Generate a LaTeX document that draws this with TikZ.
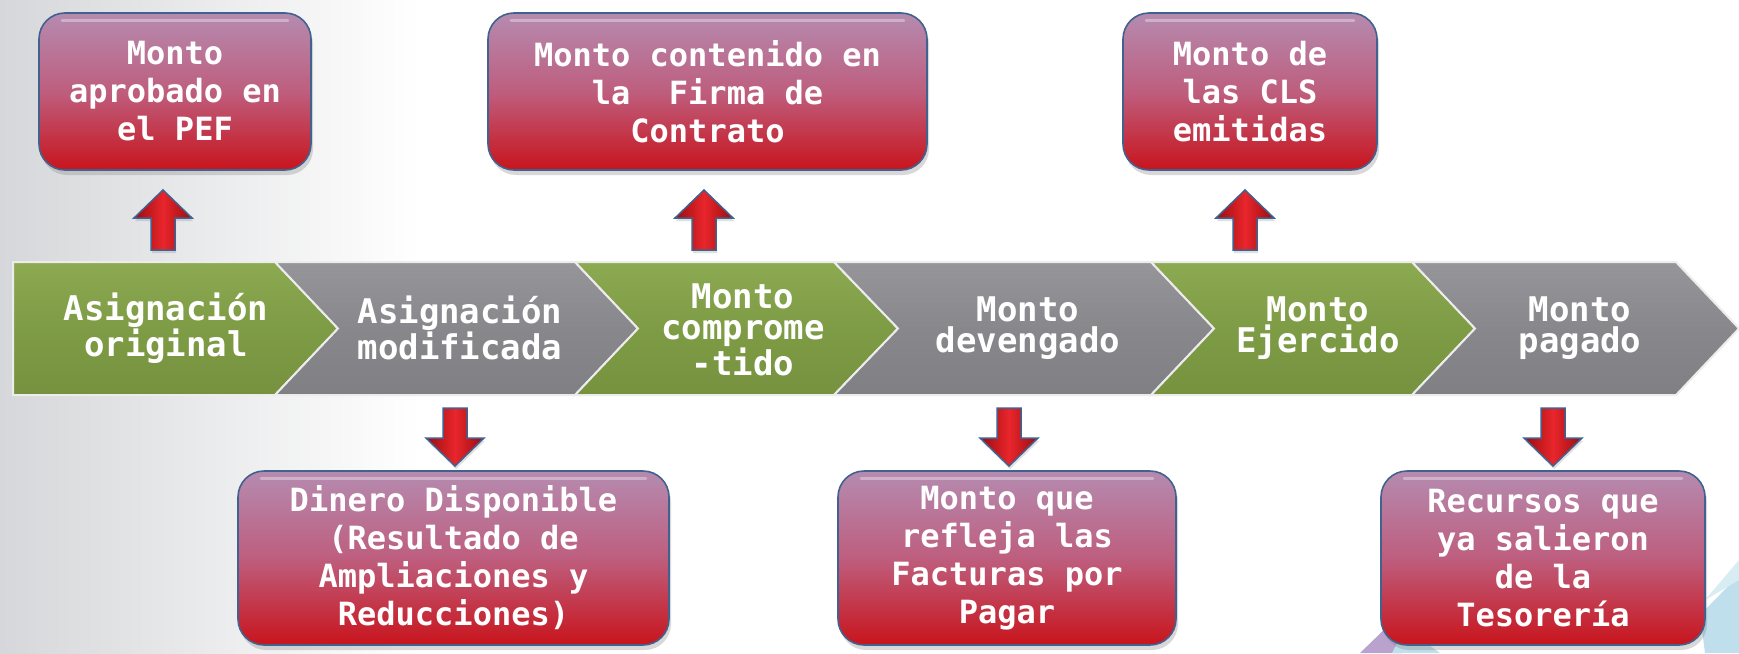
\documentclass[tikz,border=0pt]{standalone}
\usepackage{fontspec}
\newfontfamily\mono{DejaVu Sans Mono}
\usetikzlibrary{shadows}
\definecolor{boxtop}{HTML}{B58BB0}
\definecolor{boxmid}{HTML}{BE5E7E}
\definecolor{boxbot}{HTML}{C8141C}
\definecolor{bordc}{HTML}{41628F}
\definecolor{cgreen}{HTML}{7E9B45}
\definecolor{cgreenl}{HTML}{8CAA52}
\definecolor{cgreend}{HTML}{76923F}
\definecolor{cgrey}{HTML}{87878C}
\definecolor{cgreyl}{HTML}{95959A}
\definecolor{cgreyd}{HTML}{7F7F84}
\definecolor{arrred}{HTML}{E8262C}
\definecolor{arrdark}{HTML}{9A0C10}
\definecolor{bgl}{HTML}{D6D7DA}
\definecolor{decopur}{HTML}{A98BC2}
\definecolor{decoblu}{HTML}{BFDFEC}
% block arrows: name, x, y of top end, y of bottom end
\newcommand\myuparrow[4]{%
  \path[arrstyle] (#2,#3) -- (#2+29,#3+28) -- (#2+12,#3+28) -- (#2+12,#4)
    -- (#2-12,#4) -- (#2-12,#3+28) -- (#2-29,#3+28) -- cycle;
  \coordinate (#1) at (#2,{(#3+#4)/2});}
\newcommand\mydownarrow[4]{%
  \path[arrstyle] (#2,#4) -- (#2+29,#4-28) -- (#2+12,#4-28) -- (#2+12,#3)
    -- (#2-12,#3) -- (#2-12,#4-28) -- (#2-29,#4-28) -- cycle;
  \coordinate (#1) at (#2,{(#3+#4)/2});}
\begin{document}
\begin{tikzpicture}[x=1pt,y=-1pt,
  box/.style={rounded corners=26pt, draw=bordc, line width=1.6pt,
    top color=boxtop, bottom color=boxbot, middle color=boxmid,
    text=white, font=\mono\bfseries\fontsize{32}{38}\selectfont, align=center,
    drop shadow={shadow xshift=2pt, shadow yshift=-5pt, opacity=0.3},
    inner sep=0pt},
  chev/.style={draw=white!85!gray, line width=2pt},
  ctext/.style={text=white, font=\mono\bfseries\fontsize{34}{31}\selectfont, align=center},
  arrstyle/.style={draw=bordc, line width=1.5pt, line join=miter,
    left color=arrdark, right color=arrdark, middle color=arrred,
    drop shadow={shadow xshift=1pt, shadow yshift=-3pt, opacity=0.25}},
]
\useasboundingbox (0,0) rectangle (1739,653);
\fill[white] (0,0) rectangle (1739,653);
\fill[left color=bgl, right color=white] (0,0) rectangle (420,653);
% decorations bottom right
\fill[decopur, opacity=0.8] (1360,653) -- (1392,622) -- (1402,653) -- cycle;
\fill[decoblu] (1392,653) -- (1405,628) -- (1440,653) -- cycle;
\fill[decoblu] (1700,615) -- (1739,575) -- (1739,653) -- (1705,653) -- cycle;
\fill[decoblu!60!white] (1705,600) -- (1739,560) -- (1739,580) -- cycle;

% chevron band
\path[chev, top color=cgreenl, bottom color=cgreend, middle color=cgreen]
  (13,262) -- (275,262) -- (338,328.5) -- (275,395) -- (13,395) -- cycle;
\path[chev, top color=cgreyl, bottom color=cgreyd, middle color=cgrey]
  (275,262) -- (575,262) -- (638,328.5) -- (575,395) -- (275,395) -- (338,328.5) -- cycle;
\path[chev, top color=cgreenl, bottom color=cgreend, middle color=cgreen]
  (575,262) -- (834,262) -- (898,328.5) -- (834,395) -- (575,395) -- (638,328.5) -- cycle;
\path[chev, top color=cgreyl, bottom color=cgreyd, middle color=cgrey]
  (834,262) -- (1151,262) -- (1214,328.5) -- (1151,395) -- (834,395) -- (898,328.5) -- cycle;
\path[chev, top color=cgreenl, bottom color=cgreend, middle color=cgreen]
  (1151,262) -- (1412,262) -- (1475,328.5) -- (1412,395) -- (1151,395) -- (1214,328.5) -- cycle;
\path[chev, top color=cgreyl, bottom color=cgreyd, middle color=cgrey]
  (1412,262) -- (1676,262) -- (1739,328.5) -- (1676,395) -- (1412,395) -- (1475,328.5) -- cycle;

\node[ctext] (c1) at (166,328) {Asignación\\original};
\node[ctext] (c2) at (460,328) {Asignación\\modificada};
\node[ctext] (c3) at (743,330) {Monto\\comprome\\-tido};
\node[ctext] (c4) at (1028,328) {Monto\\devengado};
\node[ctext] (c5) at (1318,328) {Monto\\Ejercido};
\node[ctext] (c6) at (1580,328) {Monto\\pagado};

% top boxes
\node[box, minimum width=272pt, minimum height=157pt] (t1) at (175,91.5) {Monto\\aprobado en\\el PEF};
\node[box, minimum width=439pt, minimum height=157pt] (t2) at (707.5,91.5) {Monto contenido en\\la~~Firma de\\Contrato};
\node[box, minimum width=254pt, minimum height=157pt] (t3) at (1250,91.5) {Monto de\\las CLS\\emitidas};

% bottom boxes
\node[box, minimum width=431pt, minimum height=174pt] (b1) at (453.5,558) {Dinero Disponible\\(Resultado de\\Ampliaciones y\\Reducciones)};
\node[box, minimum width=338pt, minimum height=174pt] (b2) at (1007,558) {Monto que\\refleja las\\Facturas por\\Pagar};
\node[box, minimum width=324pt, minimum height=174pt] (b3) at (1543,558) {Recursos que\\ya salieron\\de la\\Tesorería};

\foreach \n in {t1,t2,t3,b1,b2,b3}{
  \draw[white, opacity=0.35, line width=3pt, line cap=round]
    ([xshift=24pt,yshift=-8pt]\n.north west) -- ([xshift=-24pt,yshift=-8pt]\n.north east);
}

% arrows
\myuparrow{u1}{163}{190}{250}
\myuparrow{u2}{704}{190}{250}
\myuparrow{u3}{1245}{190}{250}
\mydownarrow{d1}{455}{408}{466}
\mydownarrow{d2}{1009}{408}{466}
\mydownarrow{d3}{1553}{408}{466}
\end{tikzpicture}
\end{document}
